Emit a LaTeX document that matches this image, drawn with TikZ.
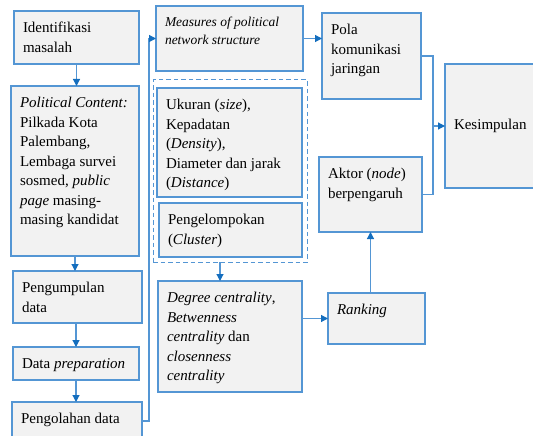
\documentclass[tikz,border=0pt]{standalone}
\usepackage{fontspec}
\setmainfont{Liberation Serif}
\usetikzlibrary{arrows.meta}
\definecolor{bord}{RGB}{84,150,212}
\definecolor{boxfill}{RGB}{242,242,242}
\definecolor{tipc}{RGB}{20,110,190}
\tikzset{
  flowbox/.style={draw=bord, fill=boxfill, line width=1.3pt, anchor=north west,
    inner xsep=6pt, inner ysep=8pt, outer sep=0pt,
    font=\fontsize{15pt}{19.5pt}\selectfont},
  dashbox/.style={draw=bord, line width=1pt, dash pattern=on 4.5pt off 3pt,
    anchor=north west, inner sep=0pt, outer sep=0pt},
  conn/.style={draw=bord, line width=1.2pt},
  arr/.style={conn, -{Triangle[length=7pt,width=7pt,color=tipc]}}
}
% \mybx[style]{name}{x1}{y1}{x2}{y2}{text}
\newcommand\mybx[7][]{%
  \node[flowbox,#1] (#2) at (#3,#4)
   {\parbox[c][\dimexpr #6pt-#4pt-16pt\relax][t]{\dimexpr #5pt-#3pt-12pt\relax}%
     {\raggedright\leftskip=3pt\strut #7}};}
\begin{document}
\begin{tikzpicture}[x=1pt,y=-1pt]
\useasboundingbox (0,0) rectangle (533,436);
% left column
\mybx{ident}{14}{11}{139}{64}{Identifikasi\\masalah}
\mybx{pol}{11}{86}{139}{256}{\textit{Political Content:}\\Pilkada Kota\\Palembang,\\Lembaga survei\\sosmed, \textit{public}\\\textit{page} masing-\\masing kandidat}
\mybx{peng}{13}{271}{142}{323}{Pengumpulan\\data}
\mybx{prep}{13}{347}{139}{380}{Data \textit{preparation}}
\mybx{olah}{12}{402}{142}{440}{Pengolahan data}
% middle column
\mybx[font=\fontsize{13.5pt}{18pt}\selectfont]{meas}{156}{6}{303}{71}{\textit{Measures of political}\\\textit{network structure}}
\node[dashbox, minimum width=154pt, minimum height=182pt] (dash) at (153,80) {};
\mybx{ukur}{157}{88}{302}{197}{Ukuran (\textit{size}),\\Kepadatan\\(\textit{Density}),\\Diameter dan jarak\\(\textit{Distance})}
\mybx{klus}{159}{203}{302}{257}{Pengelompokan\\(\textit{Cluster})}
\mybx{deg}{158}{281}{302}{392}{\textit{Degree centrality},\\\textit{Betwenness}\\\textit{centrality} dan\\\textit{closenness}\\\textit{centrality}}
% right columns
\mybx{rank}{328}{293}{425}{344}{\textit{Ranking}}
\mybx{pola}{322}{13}{421}{99}{Pola\\komunikasi\\jaringan}
\mybx{akt}{319}{157}{422}{232}{Aktor (\textit{node})\\berpengaruh}
\node[flowbox, minimum width=100pt, minimum height=124pt, text width=82pt, align=left,
      inner xsep=9pt] (kes) at (445,64) {Kesimpulan};
% connectors
\draw[arr] (ident.south) -- (ident.south |- pol.north);
\draw[arr] (pol.south) -- (pol.south |- peng.north);
\draw[arr] (prep.north |- peng.south) -- (prep.north);
\draw[arr] (prep.south) -- (prep.south |- olah.north);
\draw[arr] (olah.east) -- ++(7,0) |- (meas.west);
\draw[arr] ([xshift=-10pt]dash.south) -- ([xshift=-10pt]dash.south |- deg.north);
\draw[arr] (meas.east) -- (meas.east -| pola.west);
\draw[conn] (pola.east) -- ++(12,0) coordinate (j1) |- (akt.east);
\draw[arr] (j1 |- kes.west) -- (kes.west);
\draw[arr] (rank.west -| deg.east) -- (rank.west);
\draw[arr] (akt.south |- rank.north) -- (akt.south);
\end{tikzpicture}
\end{document}
